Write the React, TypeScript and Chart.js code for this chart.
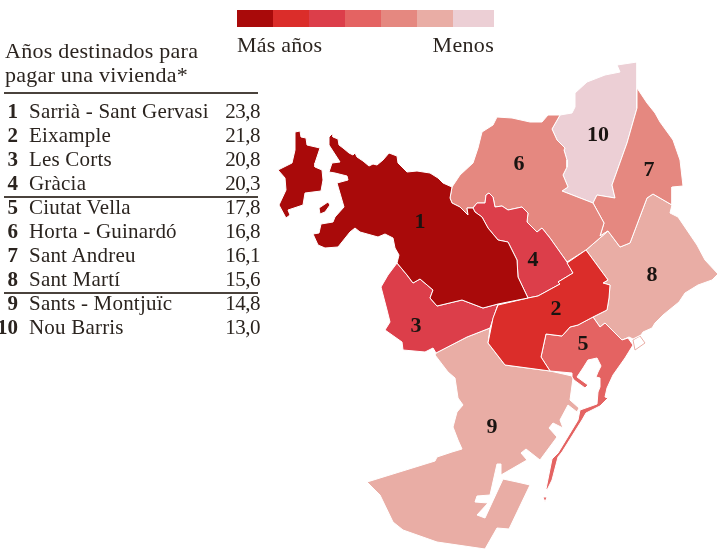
import React, { useEffect, useRef } from "react";
import { Chart, registerables } from "chart.js";

Chart.register(...registerables);

type Pt = [number, number];

const districtNames = ["Sarrià - Sant Gervasi", "Eixample", "Les Corts", "Gràcia", "Ciutat Vella", "Horta - Guinardó", "Sant Andreu", "Sant Martí", "Sants - Montjuïc", "Nou Barris"];
const districtRanks = ["1", "2", "3", "4", "5", "6", "7", "8", "9", "10"];
const districtYears = ["23,8", "21,8", "20,8", "20,3", "17,8", "16,8", "16,1", "15,6", "14,8", "13,0"];
const titleLines = ["Años destinados para", "pagar una vivienda*"];
const legendColors = ["#A90A0A", "#DB2D2A", "#DC3E4A", "#E46362", "#E58880", "#E9ADA5", "#ECCFD5"];
const legendLabels = ["Más años", "Menos"];
const ink = "#2B241F";

const sarria: Pt[] = [[333,133],[333,137],[338,139],[339,145],[343,148],[349,153],[353,155],[355,153],[357,157],[363,161],[369,166],[373,164],[377,165],[383,160],[389,153],[397,156],[398,163],[407,172],[417,171],[430,173],[438,178],[443,183],[452,187],[450,198],[452,203],[460,207],[468,215],[467,208],[473,208],[475,212],[482,217],[488,228],[498,240],[508,242],[517,260],[518,277],[528,298],[498,304],[483,308],[462,300],[437,306],[430,298],[433,290],[420,279],[413,283],[407,275],[397,263],[399,255],[395,248],[393,238],[385,234],[378,237],[360,232],[355,228],[350,232],[338,247],[325,248],[318,245],[313,234],[319,233],[321,224],[333,222],[335,217],[344,207],[337,183],[348,180],[347,176],[335,173],[329,172],[332,163],[340,162],[329,145],[329,137]];
const sarriaWest: Pt[] = [[295,132],[300,131],[301,137],[306,138],[307,145],[320,148],[315,163],[315,167],[322,170],[323,180],[321,191],[305,193],[303,205],[288,210],[290,215],[286,218],[279,205],[286,190],[285,178],[278,170],[292,163],[295,150]];
const sarriaIsle: Pt[] = [[319,208],[328,202],[330,205],[325,212],[320,214]];
const eixample: Pt[] = [[586,250],[567,263],[573,273],[558,282],[560,284],[538,296],[528,298],[498,305],[493,318],[488,343],[505,365],[550,371],[541,357],[546,334],[562,336],[570,327],[578,325],[593,317],[607,310],[609,298],[610,285],[603,283],[608,280]];
const lesCorts: Pt[] = [[397,263],[407,275],[413,283],[420,279],[433,290],[430,298],[437,306],[462,300],[483,308],[498,304],[490,328],[467,337],[436,353],[433,348],[425,352],[403,350],[402,342],[385,330],[390,322],[387,310],[381,287],[388,275]];
const gracia: Pt[] = [[475,212],[473,208],[477,203],[485,203],[486,195],[489,193],[493,197],[495,207],[502,206],[508,210],[522,207],[528,213],[527,222],[537,232],[542,228],[550,238],[567,262],[573,273],[558,282],[560,284],[538,296],[528,298],[518,277],[517,260],[508,242],[498,240],[488,228],[482,217]];
const ciutatVella: Pt[] = [[541,357],[546,334],[562,336],[570,327],[578,325],[593,317],[600,327],[605,323],[622,340],[628,338],[633,345],[625,358],[613,375],[607,388],[605,397],[608,398],[600,406],[586,413],[582,420],[562,452],[558,457],[552,480],[547,490],[546,489],[552,459],[558,453],[578,420],[580,410],[597,404],[598,392],[600,387],[600,378],[596,377],[598,372],[601,366],[597,358],[588,360],[583,368],[577,377],[588,385],[585,388],[574,380],[572,377],[572,373],[550,371]];
const ciutatTip: Pt[] = [[543,497],[547,497],[545,502]];
const horta: Pt[] = [[452,187],[460,175],[473,163],[478,148],[482,132],[493,125],[497,117],[512,118],[530,122],[542,122],[548,115],[560,115],[552,129],[557,140],[565,148],[564,150],[567,160],[567,167],[563,175],[568,187],[562,191],[593,203],[604,223],[600,236],[608,231],[586,250],[567,262],[550,238],[542,228],[537,232],[527,222],[528,213],[522,207],[508,210],[502,206],[495,207],[493,197],[489,193],[486,195],[485,203],[477,203],[473,208],[467,208],[468,215],[460,207],[452,203],[450,198]];
const santAndreu: Pt[] = [[637,88],[647,103],[655,113],[660,122],[673,140],[680,160],[683,186],[672,187],[672,205],[653,194],[647,198],[630,243],[620,247],[608,231],[600,236],[604,223],[593,203],[597,195],[615,198],[612,185],[627,143],[637,108]];
const santMarti: Pt[] = [[608,231],[620,247],[630,243],[647,198],[653,194],[672,205],[670,213],[678,217],[697,245],[705,260],[718,274],[712,280],[698,285],[685,293],[679,302],[663,315],[655,323],[652,328],[643,332],[641,335],[633,339],[629,337],[622,340],[605,323],[600,327],[593,317],[607,310],[609,298],[610,285],[603,283],[608,280],[586,250]];
const santMartiDock: Pt[] = [[633,340],[640,336],[645,343],[635,350]];
const sants: Pt[] = [[490,328],[488,343],[505,365],[550,371],[572,376],[573,378],[570,400],[579,408],[577,412],[568,405],[560,420],[563,428],[553,423],[549,428],[557,437],[540,460],[526,449],[521,453],[527,460],[501,475],[501,464],[497,464],[490,495],[477,496],[475,502],[488,503],[477,515],[485,518],[503,479],[517,482],[530,485],[509,529],[497,528],[485,549],[437,542],[403,530],[393,522],[380,495],[367,482],[435,461],[437,457],[452,452],[462,449],[458,440],[453,427],[457,412],[463,405],[458,398],[455,378],[448,372],[435,355],[436,353],[467,337]];
const nouBarris: Pt[] = [[637,62],[637,100],[637,108],[627,143],[612,185],[615,198],[597,195],[593,203],[562,191],[568,187],[563,175],[567,167],[567,160],[564,150],[565,148],[557,140],[552,129],[560,115],[572,113],[575,107],[575,93],[587,82],[605,75],[620,72],[617,65]];

const shapes: { pts: Pt[]; color: string }[] = [
  { pts: sarria, color: "#A90A0A" },
  { pts: sarriaWest, color: "#A90A0A" },
  { pts: sarriaIsle, color: "#A90A0A" },
  { pts: eixample, color: "#DB2D2A" },
  { pts: lesCorts, color: "#DC3E4A" },
  { pts: gracia, color: "#DC3E4A" },
  { pts: ciutatVella, color: "#E46362" },
  { pts: ciutatTip, color: "#E46362" },
  { pts: horta, color: "#E58880" },
  { pts: santAndreu, color: "#E58880" },
  { pts: santMarti, color: "#E9ADA5" },
  { pts: sants, color: "#E9ADA5" },
  { pts: nouBarris, color: "#ECCFD5" },
];

const mapLabelX = [420, 556, 416, 533, 583, 519, 649, 652, 492, 598];
const mapLabelY = [222, 309, 326, 260, 344, 164, 170, 275, 427, 135];

const SERIF = '"Liberation Serif", serif';

const mapLabels = {
  id: "mapLabels",
  afterDatasetsDraw(chart: any) {
    const { ctx, scales } = chart;
    ctx.save();
    ctx.fillStyle = "#1a1411";
    ctx.font = `bold 22px ${SERIF}`;
    ctx.textAlign = "center";
    ctx.textBaseline = "middle";
    districtRanks.forEach((r, i) => {
      ctx.fillText(r, scales.x.getPixelForValue(mapLabelX[i]), scales.y.getPixelForValue(mapLabelY[i]));
    });
    ctx.restore();
  },
};

const abs = (style: React.CSSProperties): React.CSSProperties => ({
  position: "absolute",
  whiteSpace: "nowrap",
  fontFamily: SERIF,
  color: ink,
  ...style,
});

export default function App() {
  const ref = useRef<HTMLCanvasElement>(null);
  useEffect(() => {
    const close = (pts: Pt[]) => [...pts, pts[0]].map(([x, y]) => ({ x, y }));
    const chart = new Chart(ref.current!, {
      type: "scatter",
      data: {
        datasets: [
          ...shapes.map((s) => ({
            data: close(s.pts),
            showLine: true,
            fill: "shape",
            backgroundColor: s.color,
            borderColor: "#FFFFFF",
            borderWidth: 1,
            borderJoinStyle: "round",
            pointRadius: 0,
            tension: 0,
          })),
          {
            data: close(santMartiDock),
            showLine: true,
            fill: false,
            borderColor: "#E9ADA5",
            borderWidth: 1,
            pointRadius: 0,
          },
        ],
      } as any,
      options: {
        animation: false,
        responsive: false,
        layout: { padding: 0 },
        plugins: { legend: { display: false }, tooltip: { enabled: false } },
        scales: {
          x: { type: "linear", display: false, min: 0, max: 726 },
          y: { type: "linear", display: false, min: 0, max: 551, reverse: true },
        },
      },
      plugins: [mapLabels],
    });
    return () => chart.destroy();
  }, []);

  const legendEdges = [237, 273, 309, 345, 381, 417, 453, 494];
  const rowTop = (i: number) => 99 + i * 24;
  const rules = [93, 197, 293];

  return (
    <div style={{ position: "absolute", left: 0, top: 0, width: 726, height: 551, background: "#fff", overflow: "hidden" }}>
      <canvas ref={ref} width={726} height={551} style={{ position: "absolute", left: 0, top: 0, display: "block" }} />
      {legendColors.map((c, i) => (
        <div key={c} style={{ position: "absolute", left: legendEdges[i], top: 10, width: legendEdges[i + 1] - legendEdges[i], height: 17, background: c }} />
      ))}
      <div style={abs({ left: 237, top: 33, fontSize: 22, lineHeight: "24px", letterSpacing: 0.2 })}>{legendLabels[0]}</div>
      <div style={abs({ right: 232, top: 33, fontSize: 22, lineHeight: "24px", letterSpacing: 0.3 })}>{legendLabels[1]}</div>
      {titleLines.map((t, i) => (
        <div key={t} style={abs({ left: 5, top: 39 + i * 24, fontSize: 22, lineHeight: "24px", letterSpacing: 0.25 })}>{t}</div>
      ))}
      {rules.map((y) => (
        <div key={y} style={{ position: "absolute", left: 4, top: y - 1, width: 254, height: 2, background: "#4a423c" }} />
      ))}
      {districtNames.map((n, i) => (
        <React.Fragment key={n}>
          <div style={abs({ right: 726 - 18, top: rowTop(i), fontSize: 21, lineHeight: "24px", fontWeight: 700 })}>{districtRanks[i]}</div>
          <div style={abs({ left: 29, top: rowTop(i), fontSize: 21, lineHeight: "24px", letterSpacing: 0.2 })}>{n}</div>
          <div style={abs({ right: 726 - 260, top: rowTop(i), fontSize: 21, lineHeight: "24px", letterSpacing: -0.5 })}>{districtYears[i]}</div>
        </React.Fragment>
      ))}
    </div>
  );
}
